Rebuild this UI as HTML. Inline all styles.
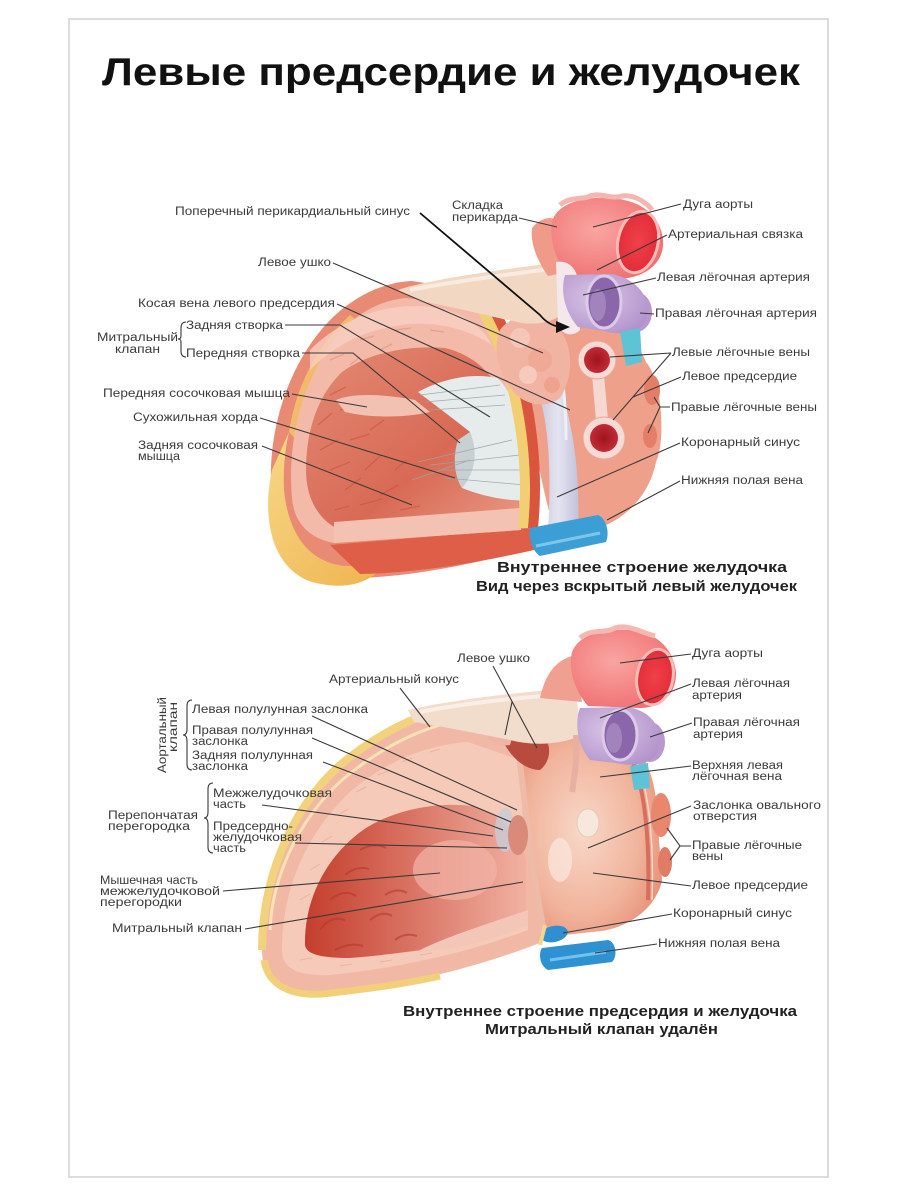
<!DOCTYPE html>
<html><head><meta charset="utf-8"><style>
html,body{margin:0;padding:0;background:#fff;}
svg{display:block;}
.l{font-family:"Liberation Sans","DejaVu Sans",sans-serif;font-size:11.5px;fill:#3a3a3a;}
.c{font-family:"Liberation Sans","DejaVu Sans",sans-serif;font-size:15px;font-weight:bold;fill:#222;}
.ln{stroke:#3a3a3a;stroke-width:1.1;fill:none;}
</style></head><body>
<svg width="900" height="1200" viewBox="0 0 900 1200" xmlns="http://www.w3.org/2000/svg">
<defs>
<linearGradient id="yel" x1="0" y1="0" x2="1" y2="1"><stop offset="0" stop-color="#f7d886"/><stop offset="1" stop-color="#efb34e"/></linearGradient>
<linearGradient id="cav1" x1="0" y1="0" x2="1" y2="1"><stop offset="0" stop-color="#e38a74"/><stop offset="0.6" stop-color="#d86a55"/><stop offset="1" stop-color="#e99a86"/></linearGradient>
<linearGradient id="cav2" x1="0" y1="0" x2="1" y2="0"><stop offset="0" stop-color="#c43e2c"/><stop offset="0.45" stop-color="#d87060"/><stop offset="1" stop-color="#f1b2a2"/></linearGradient>
<radialGradient id="ao" cx="0.4" cy="0.4" r="0.7"><stop offset="0" stop-color="#f9a5a0"/><stop offset="1" stop-color="#ef6d70"/></radialGradient>
<radialGradient id="aoin" cx="0.5" cy="0.5" r="0.6"><stop offset="0" stop-color="#f0404a"/><stop offset="1" stop-color="#e02a34"/></radialGradient>
<radialGradient id="pu" cx="0.4" cy="0.4" r="0.7"><stop offset="0" stop-color="#d9c6e6"/><stop offset="1" stop-color="#b192cb"/></radialGradient>
<radialGradient id="vein" cx="0.5" cy="0.5" r="0.6"><stop offset="0" stop-color="#9e1420"/><stop offset="1" stop-color="#c8303a"/></radialGradient>
<radialGradient id="atr" cx="0.45" cy="0.5" r="0.65"><stop offset="0" stop-color="#f8d8c8"/><stop offset="0.6" stop-color="#f1b49c"/><stop offset="1" stop-color="#e58a72"/></radialGradient>
<linearGradient id="band" x1="0" y1="0" x2="1" y2="0"><stop offset="0" stop-color="#c9c8dd"/><stop offset="0.5" stop-color="#e4e4f0"/><stop offset="1" stop-color="#c3c2da"/></linearGradient>
</defs>
<rect width="900" height="1200" fill="#fff"/>
<rect x="69" y="19" width="759" height="1158" fill="none" stroke="#dcdcdc" stroke-width="2"/>

<text x="102" y="85" font-family="Liberation Sans, DejaVu Sans, sans-serif" font-size="39" font-weight="bold" fill="#111" textLength="698" lengthAdjust="spacingAndGlyphs">Левые предсердие и желудочек</text>

<!-- ================= TOP HEART ================= -->
<g>
<path d="M515,318 L565,298 C600,305 632,328 646,362 C662,380 666,440 656,462 C650,492 630,515 604,526 L556,534 C544,500 536,450 526,400 Z" fill="#eea08b"/>
<path d="M272,498 C266,440 284,368 330,320 C355,295 385,282 412,281 L470,290 C492,300 506,322 516,348 L531,402 C542,452 542,502 534,548 C480,562 420,576 358,578 C306,580 278,548 272,498 Z" fill="#e98a74"/>
<path d="M272,470 C262,515 270,568 312,582 C350,592 372,580 384,566 L345,566 C306,562 288,530 284,490 C283,470 285,450 289,432 Z" fill="url(#yel)"/>
<path d="M289,432 C296,385 318,345 350,315 L356,320 C326,352 304,392 296,440 Z" fill="#f3c66c" opacity="0.8"/>
<path d="M330,545 L532,528 L534,550 C480,562 420,573 360,574 Z" fill="#df5e47"/>
<path d="M292,498 C287,440 302,380 337,336 C357,312 382,300 406,298 L466,304 C486,316 500,340 507,370 L520,430 C526,470 526,505 521,530 L334,543 C308,538 294,522 292,498 Z" fill="#f3baa9"/>
<path d="M306,470 C306,430 318,395 342,372 C370,352 410,345 445,348 C478,356 496,378 506,405 L516,445 L520,520 L340,530 C318,520 306,498 306,470 Z" fill="url(#cav1)"/>
<path d="M310,350 C340,320 380,305 420,306 C455,308 480,322 492,345 C470,330 440,322 410,324 C370,328 338,342 310,370 Z" fill="#f7cfc2" opacity="0.8"/>
<g stroke="#c9503c" stroke-width="1.3" opacity="0.55" fill="none">
<path d="M320,450 l18,-10 M330,470 l20,-8 M345,490 l16,-12 M360,505 l22,-6 M318,425 l14,-12 M340,410 l18,-4 M365,470 l15,-14 M380,495 l18,-10 M395,470 l12,-10 M350,440 l20,-6 M370,430 l14,-10 M400,510 l20,-4 M330,395 l16,-8 M335,510 l14,-4"/>
<path d="M330,360 l14,-6 M360,340 l14,-4 M395,330 l16,-2 M430,330 l14,2 M350,365 l10,-8 M380,350 l12,-6" stroke="#d98a78"/>
</g>
<path d="M334,522 L520,508 L521,530 L334,543 Z" fill="#f4c2b2"/>
<path d="M336,400 C355,392 390,395 415,400 L430,412 C405,418 370,418 345,412 Z" fill="#f3c1b2"/>
<path d="M418,392 C440,380 470,372 497,378 C515,392 528,440 531,500 C505,502 480,495 462,488 C470,470 475,450 470,432 C455,420 435,405 418,392 Z" fill="#e6ecec"/>
<path d="M470,432 C478,450 476,472 462,488 C455,478 452,458 458,440 Z" fill="#c9d0d2"/>
<g stroke="#9aa4a6" stroke-width="0.8" fill="none" opacity="0.9">
<path d="M420,395 L500,385 M425,402 L505,395 M430,410 L505,405 M440,470 L520,470 M445,478 L525,485 M430,465 L520,455 M418,462 L512,440 M412,480 L470,460"/>
</g>
<path d="M470,300 C490,330 505,370 512,410 C520,450 522,490 518,528 L528,528 C532,488 530,448 522,406 C514,366 500,326 480,296 Z" fill="#f2cf72"/>
<path d="M480,296 C500,326 514,366 522,406 C530,448 532,488 528,528 L538,528 C542,488 540,446 532,404 C524,362 508,322 490,292 Z" fill="#d9553e"/>
<path d="M538,392 C548,420 552,470 548,528 L560,536 L578,530 C580,480 575,430 560,388 Z" fill="url(#band)"/>
<path d="M556,336 C562,370 566,400 566,440" stroke="#eeeef6" stroke-width="3" fill="none"/>
<path d="M500,330 C515,310 545,312 560,330 C575,350 572,380 560,398 C545,410 522,404 512,390 C498,372 492,350 500,330 Z" fill="#f2b4a2"/>
<circle cx="520" cy="338" r="10" fill="#f6c6b8"/><circle cx="540" cy="360" r="12" fill="#f0a994"/><circle cx="528" cy="375" r="9" fill="#f6cabc"/><circle cx="552" cy="385" r="8" fill="#efa28e"/>
<path d="M398,290 C430,279 500,270 560,262 L574,300 C566,318 545,326 522,323 C492,317 450,306 420,301 Z" fill="#f2d7c3"/>
<path d="M410,290 C450,282 510,274 558,268" stroke="#f9ebe0" stroke-width="4" fill="none"/>
<path d="M532,228 C540,218 552,215 560,222 L568,272 L548,276 C538,262 530,244 532,228 Z" fill="#f09a8a"/>
<path d="M552,222 C556,205 580,196 610,198 C640,200 660,214 663,240 C665,262 646,279 615,279 L570,276 C556,264 549,240 552,222 Z" fill="url(#ao)"/>
<path d="M560,205 C570,196 585,200 590,196 C600,192 612,200 622,196 C635,194 648,204 652,210" stroke="#f7b5b0" stroke-width="5" fill="none"/>
<ellipse cx="638" cy="242" rx="20" ry="31" fill="url(#aoin)" stroke="#f8bcb8" stroke-width="3" transform="rotate(12 638 242)"/>
<path d="M556,262 C566,260 576,266 578,280 L580,330 C572,338 562,334 558,326 Z" fill="#f4e8ea"/>
<ellipse cx="636" cy="312" rx="16" ry="20" fill="#b898cd"/>
<path d="M565,275 L612,274 C640,280 652,300 646,320 C640,333 622,336 604,331 L578,327 C565,312 560,292 565,275 Z" fill="url(#pu)"/>
<ellipse cx="604" cy="302" rx="17" ry="26" fill="#8b66aa" stroke="#dccbe8" stroke-width="3"/>
<ellipse cx="598" cy="305" rx="8" ry="16" fill="#a383be"/>
<path d="M620,332 L640,328 L642,362 L626,366 Z" fill="#5fc3d6"/>
<path d="M592,375 L604,375 L608,420 L596,420 Z" fill="#f6d8d2"/>
<circle cx="597" cy="360" r="19" fill="#f7dad4" stroke="#e7a89c" stroke-width="1"/>
<circle cx="597" cy="360" r="13" fill="url(#vein)"/>
<circle cx="604" cy="438" r="21" fill="#f7dad4" stroke="#e7a89c" stroke-width="1"/>
<circle cx="604" cy="438" r="14" fill="url(#vein)"/>
<ellipse cx="652" cy="390" rx="8" ry="15" fill="#e57e68"/>
<ellipse cx="650" cy="436" rx="7" ry="12" fill="#e57e68"/>
<path d="M530,528 L598,515 C606,518 610,532 606,542 L540,556 C533,552 528,538 530,528 Z" fill="#3b9fd6"/>
<path d="M536,546 L600,533" stroke="#7cc6ec" stroke-width="3"/>
</g>

<!-- ================= BOTTOM HEART ================= -->
<g>
<path d="M262,950 C262,880 290,810 340,765 C380,732 420,712 465,705 L530,740 L542,942 C482,966 402,987 322,994 C286,996 262,982 262,950 Z" fill="#f2b8a6"/>
<path d="M262,950 C262,880 290,810 340,765 C380,732 420,712 465,705" stroke="#f3d27e" stroke-width="8" fill="none"/>
<path d="M264,960 C268,985 290,996 322,994 C360,990 400,985 440,976" stroke="#f2cf78" stroke-width="7" fill="none"/>
<path d="M270,930 C272,880 296,822 342,780 C380,748 420,728 460,720" stroke="#f8e2b4" stroke-width="3" fill="none"/>
<path d="M282,950 C282,890 305,835 350,792 C385,762 425,745 468,742 L520,760 L528,930 C470,952 400,968 330,975 C300,976 282,970 282,950 Z" fill="#f5cab9"/>
<g stroke="#e8a896" stroke-width="1" fill="none" opacity="0.7">
<path d="M300,900 l10,-6 M310,870 l10,-6 M322,842 l10,-6 M338,815 l10,-6 M356,792 l10,-5 M378,775 l10,-4 M402,762 l10,-4 M430,752 l10,-3 M300,960 l12,-2 M340,966 l12,-2 M380,962 l12,-2 M420,955 l12,-2 M460,946 l12,-3"/>
</g>
<path d="M305,945 C304,900 326,855 366,828 C398,808 440,802 472,806 C502,814 520,834 526,860 L527,922 C490,942 420,952 350,958 C324,958 306,955 305,945 Z" fill="url(#cav2)"/>
<g stroke="#b3342a" stroke-width="2" opacity="0.55" fill="none">
<path d="M320,930 q10,-15 25,-10 M330,900 q14,-12 26,-4 M345,875 q12,-10 24,-6 M360,850 q14,-8 26,-2 M335,950 q15,-8 28,-4 M370,920 q12,-10 22,-4 M385,895 q12,-8 22,-2 M395,940 q10,-8 22,-4"/>
</g>
<ellipse cx="455" cy="870" rx="42" ry="30" fill="#f2b4a6" opacity="0.7"/>
<path d="M420,950 C450,935 500,920 528,910 L528,925 C490,942 450,950 420,952 Z" fill="#f3c6b8"/>
<path d="M518,748 C538,728 568,722 600,726 C632,734 652,760 656,800 L662,880 C657,906 632,926 602,931 L545,937 C532,900 524,830 518,748 Z" fill="url(#atr)"/>
<path d="M632,760 C645,790 650,840 648,900" stroke="#d86e5c" stroke-width="4" fill="none"/>
<path d="M636,760 C649,790 654,840 652,900" stroke="#f6d6ca" stroke-width="1.5" fill="none"/>
<path d="M518,748 C525,800 530,860 545,937" stroke="#eebba8" stroke-width="6" fill="none"/>
<ellipse cx="588" cy="823" rx="11" ry="14" fill="#f7e8de" stroke="#e8c8b8" stroke-width="1"/>
<ellipse cx="560" cy="860" rx="12" ry="22" fill="#fbe8df" opacity="0.7"/>
<ellipse cx="505" cy="830" rx="10" ry="22" fill="#c8ccd8" opacity="0.8"/>
<ellipse cx="518" cy="835" rx="10" ry="20" fill="#d98a78"/>
<path d="M505,745 C515,730 530,732 545,738 C552,748 550,762 540,770 C528,770 515,762 505,745 Z" fill="#b84a3e"/>
<path d="M488,738 C495,728 508,726 514,732 L510,745 C500,746 492,744 488,738 Z" fill="#f0b4a4"/>
<path d="M408,710 C450,700 520,692 575,688 L582,735 C562,745 532,746 510,740 C480,734 440,726 414,722 Z" fill="#f2dccb"/>
<path d="M420,712 C460,704 520,697 572,694" stroke="#faeee6" stroke-width="4" fill="none"/>
<path d="M576,735 C578,755 574,780 572,792" stroke="#e7b0a0" stroke-width="6" fill="none"/>
<path d="M540,698 C545,675 555,660 575,655 L582,702 Z" fill="#f0a090"/>
<path d="M572,652 C578,636 600,628 630,630 C656,632 673,648 676,672 C677,695 660,708 640,708 L588,706 C574,690 568,668 572,652 Z" fill="url(#ao)"/>
<path d="M580,638 C592,628 605,634 615,628 C628,624 640,632 655,636" stroke="#f7b8b2" stroke-width="5" fill="none"/>
<ellipse cx="655" cy="677" rx="18" ry="28" fill="url(#aoin)" stroke="#f8bcb8" stroke-width="3" transform="rotate(10 655 677)"/>
<ellipse cx="650" cy="742" rx="15" ry="20" fill="#b898cd"/>
<path d="M580,708 L628,707 C655,712 664,732 658,752 C652,764 634,767 616,763 L590,760 C578,746 574,724 580,708 Z" fill="url(#pu)"/>
<ellipse cx="620" cy="735" rx="17" ry="25" fill="#8b66aa" stroke="#dccbe8" stroke-width="3"/>
<ellipse cx="614" cy="738" rx="8" ry="15" fill="#a383be"/>
<path d="M630,766 L648,763 L650,788 L634,790 Z" fill="#5fc3d6"/>
<ellipse cx="661" cy="815" rx="10" ry="22" fill="#e8866e"/>
<ellipse cx="665" cy="862" rx="7" ry="15" fill="#e07c66"/>
<ellipse cx="554" cy="934" rx="14" ry="8" fill="#2f8fd0" transform="rotate(-12 554 934)"/>
<path d="M542,948 L608,940 C616,942 618,956 612,962 L548,970 C540,966 538,954 542,948 Z" fill="#2e92d2"/>
<path d="M550,960 L606,952" stroke="#74c2ea" stroke-width="3"/>
<path d="M545,925 L540,945" stroke="#f2d88a" stroke-width="4"/>
</g>

<!-- ================= TOP LEADERS ================= -->
<path d="M420,213 L540,315 Q548,325 560,327" stroke="#111" stroke-width="1.8" fill="none"/>
<polygon points="556,321 570,327 556,333" fill="#111"/>
<g class="ln">
<path d="M519,218 L557,227"/>
<path d="M681,204 L593,227"/>
<path d="M667,235 L597,270"/>
<path d="M656,278 L583,295"/>
<path d="M654,314 L640,313"/>
<path d="M671,353 L610,357 M671,353 L613,420"/>
<path d="M681,377 L633,397"/>
<path d="M670,407 L660,407 L654,397 M660,407 L648,433"/>
<path d="M680,443 L557,497"/>
<path d="M680,481 L607,520"/>
<path d="M333,263 L543,353"/>
<path d="M337,304 L570,410"/>
<path d="M285,325 L340,325 L490,417"/>
<path d="M302,353 L353,353 L460,443"/>
<path d="M292,394 L367,407"/>
<path d="M260,418 L455,478"/>
<path d="M262,446 L412,505"/>
<path d="M186,322 Q181,322 181,328 L181,336 Q181,339 178,339 Q181,339 181,342 L181,351 Q181,357 186,357"/>
</g>

<!-- ================= BOTTOM LEADERS ================= -->
<g class="ln">
<path d="M493,666 L537,748 M512,702 L505,735"/>
<path d="M400,688 L430,727"/>
<path d="M691,654 L620,663"/>
<path d="M691,684 L600,718"/>
<path d="M692,723 L650,737"/>
<path d="M691,766 L600,777"/>
<path d="M691,806 L588,848"/>
<path d="M691,846 L680,846 L667,828 M680,846 L670,860"/>
<path d="M691,886 L593,873"/>
<path d="M672,914 L563,933"/>
<path d="M657,944 L595,953"/>
<path d="M312,716 L517,810"/>
<path d="M312,738 L511,822"/>
<path d="M323,762 L503,830"/>
<path d="M262,805 L493,836"/>
<path d="M295,843 L507,848"/>
<path d="M223,891 L440,873"/>
<path d="M245,929 L523,882"/>
<path d="M192,700 Q187,700 187,706 L187,729 Q187,735 183,735 Q187,735 187,741 L187,764 Q187,770 192,770"/>
<path d="M213,783 Q208,783 208,789 L208,812 Q208,818 204,818 Q208,818 208,824 L208,847 Q208,853 213,853"/>
</g>

<!-- ================= TOP LABELS ================= -->
<g class="l">
<text x="175" y="215" textLength="235" lengthAdjust="spacingAndGlyphs">Поперечный перикардиальный синус</text>
<text x="452" y="209" textLength="51" lengthAdjust="spacingAndGlyphs">Складка</text>
<text x="452" y="221" textLength="66" lengthAdjust="spacingAndGlyphs">перикарда</text>
<text x="683" y="208" textLength="70" lengthAdjust="spacingAndGlyphs">Дуга аорты</text>
<text x="668" y="238" textLength="135" lengthAdjust="spacingAndGlyphs">Артериальная связка</text>
<text x="657" y="281" textLength="153" lengthAdjust="spacingAndGlyphs">Левая лёгочная артерия</text>
<text x="655" y="317" textLength="162" lengthAdjust="spacingAndGlyphs">Правая лёгочная артерия</text>
<text x="672" y="356" textLength="138" lengthAdjust="spacingAndGlyphs">Левые лёгочные вены</text>
<text x="682" y="380" textLength="115" lengthAdjust="spacingAndGlyphs">Левое предсердие</text>
<text x="671" y="411" textLength="146" lengthAdjust="spacingAndGlyphs">Правые лёгочные вены</text>
<text x="681" y="446" textLength="119" lengthAdjust="spacingAndGlyphs">Коронарный синус</text>
<text x="681" y="484" textLength="122" lengthAdjust="spacingAndGlyphs">Нижняя полая вена</text>
<text x="258" y="266" textLength="73" lengthAdjust="spacingAndGlyphs">Левое ушко</text>
<text x="138" y="307" textLength="197" lengthAdjust="spacingAndGlyphs">Косая вена левого предсердия</text>
<text x="97" y="341" textLength="81" lengthAdjust="spacingAndGlyphs">Митральный</text>
<text x="115" y="353" textLength="45" lengthAdjust="spacingAndGlyphs">клапан</text>
<text x="186" y="329" textLength="97" lengthAdjust="spacingAndGlyphs">Задняя створка</text>
<text x="186" y="357" textLength="114" lengthAdjust="spacingAndGlyphs">Передняя створка</text>
<text x="103" y="397" textLength="187" lengthAdjust="spacingAndGlyphs">Передняя сосочковая мышца</text>
<text x="133" y="421" textLength="125" lengthAdjust="spacingAndGlyphs">Сухожильная хорда</text>
<text x="138" y="449" textLength="120" lengthAdjust="spacingAndGlyphs">Задняя сосочковая</text>
<text x="138" y="460" textLength="42" lengthAdjust="spacingAndGlyphs">мышца</text>
</g>
<text class="c" x="497" y="572" textLength="290" lengthAdjust="spacingAndGlyphs">Внутреннее строение желудочка</text>
<text class="c" x="476" y="591" textLength="321" lengthAdjust="spacingAndGlyphs">Вид через вскрытый левый желудочек</text>

<!-- ================= BOTTOM LABELS ================= -->
<g class="l">
<text x="457" y="662" textLength="73" lengthAdjust="spacingAndGlyphs">Левое ушко</text>
<text x="329" y="683" textLength="130" lengthAdjust="spacingAndGlyphs">Артериальный конус</text>
<text x="692" y="657" textLength="71" lengthAdjust="spacingAndGlyphs">Дуга аорты</text>
<text x="692" y="687" textLength="98" lengthAdjust="spacingAndGlyphs">Левая лёгочная</text>
<text x="692" y="699" textLength="50" lengthAdjust="spacingAndGlyphs">артерия</text>
<text x="693" y="726" textLength="107" lengthAdjust="spacingAndGlyphs">Правая лёгочная</text>
<text x="693" y="738" textLength="50" lengthAdjust="spacingAndGlyphs">артерия</text>
<text x="692" y="769" textLength="91" lengthAdjust="spacingAndGlyphs">Верхняя левая</text>
<text x="692" y="780" textLength="90" lengthAdjust="spacingAndGlyphs">лёгочная вена</text>
<text x="693" y="809" textLength="128" lengthAdjust="spacingAndGlyphs">Заслонка овального</text>
<text x="693" y="820" textLength="64" lengthAdjust="spacingAndGlyphs">отверстия</text>
<text x="692" y="849" textLength="110" lengthAdjust="spacingAndGlyphs">Правые лёгочные</text>
<text x="692" y="860" textLength="31" lengthAdjust="spacingAndGlyphs">вены</text>
<text x="692" y="889" textLength="116" lengthAdjust="spacingAndGlyphs">Левое предсердие</text>
<text x="673" y="917" textLength="119" lengthAdjust="spacingAndGlyphs">Коронарный синус</text>
<text x="658" y="947" textLength="122" lengthAdjust="spacingAndGlyphs">Нижняя полая вена</text>

<text transform="translate(166,735) rotate(-90)" text-anchor="middle" textLength="76" lengthAdjust="spacingAndGlyphs">Аортальный</text>
<text transform="translate(177,727) rotate(-90)" text-anchor="middle" textLength="50" lengthAdjust="spacingAndGlyphs">клапан</text>
<text x="192" y="713" textLength="176" lengthAdjust="spacingAndGlyphs">Левая полулунная заслонка</text>
<text x="192" y="734" textLength="121" lengthAdjust="spacingAndGlyphs">Правая полулунная</text>
<text x="192" y="745" textLength="56" lengthAdjust="spacingAndGlyphs">заслонка</text>
<text x="192" y="759" textLength="121" lengthAdjust="spacingAndGlyphs">Задняя полулунная</text>
<text x="192" y="770" textLength="56" lengthAdjust="spacingAndGlyphs">заслонка</text>
<text x="213" y="797" textLength="119" lengthAdjust="spacingAndGlyphs">Межжелудочковая</text>
<text x="213" y="808" textLength="33" lengthAdjust="spacingAndGlyphs">часть</text>
<text x="108" y="819" textLength="90" lengthAdjust="spacingAndGlyphs">Перепончатая</text>
<text x="108" y="830" textLength="82" lengthAdjust="spacingAndGlyphs">перегородка</text>
<text x="213" y="830" textLength="80" lengthAdjust="spacingAndGlyphs">Предсердно-</text>
<text x="213" y="841" textLength="89" lengthAdjust="spacingAndGlyphs">желудочковая</text>
<text x="213" y="852" textLength="33" lengthAdjust="spacingAndGlyphs">часть</text>
<text x="100" y="884" textLength="98" lengthAdjust="spacingAndGlyphs">Мышечная часть</text>
<text x="100" y="895" textLength="120" lengthAdjust="spacingAndGlyphs">межжелудочковой</text>
<text x="100" y="906" textLength="82" lengthAdjust="spacingAndGlyphs">перегородки</text>
<text x="112" y="932" textLength="130" lengthAdjust="spacingAndGlyphs">Митральный клапан</text>
</g>
<text class="c" x="403" y="1016" textLength="394" lengthAdjust="spacingAndGlyphs">Внутреннее строение предсердия и желудочка</text>
<text class="c" x="485" y="1034" textLength="233" lengthAdjust="spacingAndGlyphs">Митральный клапан удалён</text>
</svg>
</body></html>
